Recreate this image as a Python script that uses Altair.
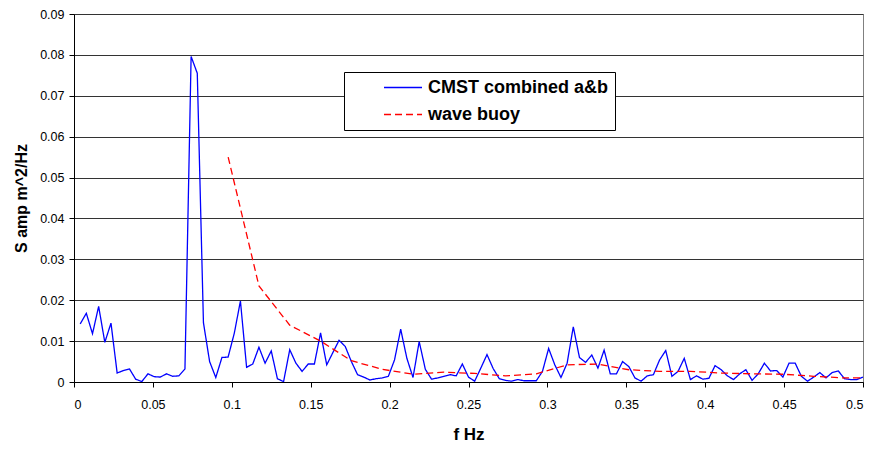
import altair as alt
import pandas as pd

# --- data ---
FREQ_STEP = 1 / 256  # FFT bin spacing of the CMST spectrum
cmst_freq = [round(i * FREQ_STEP, 6) for i in range(1, 129)]
cmst_S = [
    0.0142, 0.0168, 0.0118, 0.0185, 0.0097, 0.0144, 0.0022, 0.0028, 0.0032, 0.0007,
    0.0001, 0.0020, 0.0013, 0.0012, 0.0020, 0.0014, 0.0015, 0.0032, 0.0796, 0.0755,
    0.0145, 0.0050, 0.0011, 0.0060, 0.0061, 0.0119, 0.0198, 0.0036, 0.0044, 0.0085,
    0.0046, 0.0076, 0.0008, 0.0001, 0.0079, 0.0046, 0.0026, 0.0044, 0.0044, 0.0120,
    0.0042, 0.0072, 0.0102, 0.0087, 0.0050, 0.0018, 0.0012, 0.0005, 0.0008, 0.0010,
    0.0014, 0.0054, 0.0129, 0.0058, 0.0011, 0.0099, 0.0031, 0.0007, 0.0010, 0.0014,
    0.0018, 0.0015, 0.0044, 0.0012, 0.0002, 0.0034, 0.0067, 0.0033, 0.0008, 0.0004,
    0.0002, 0.0006, 0.0003, 0.0003, 0.0003, 0.0026, 0.0082, 0.0042, 0.0011, 0.0046,
    0.0135, 0.0060, 0.0048, 0.0066, 0.0034, 0.0078, 0.0020, 0.0020, 0.0050, 0.0038,
    0.0010, 0.0002, 0.0015, 0.0018, 0.0054, 0.0077, 0.0014, 0.0026, 0.0058, 0.0006,
    0.0015, 0.0007, 0.0009, 0.0040, 0.0030, 0.0015, 0.0006, 0.0020, 0.0030, 0.0004,
    0.0020, 0.0046, 0.0027, 0.0028, 0.0012, 0.0046, 0.0046, 0.0014, 0.0002, 0.0012,
    0.0023, 0.0010, 0.0023, 0.0027, 0.0008, 0.0006, 0.0006, 0.0012,
]

buoy_freq = [0.0977, 0.1172, 0.1367, 0.1563, 0.1758, 0.1953, 0.2148, 0.2344, 0.2539,
             0.2734, 0.2930, 0.3125, 0.3320, 0.3516, 0.3711, 0.3906, 0.4102, 0.4297,
             0.4492, 0.4688, 0.4883, 0.5000]
buoy_S = [0.0550, 0.0235, 0.0139, 0.0100, 0.0052, 0.0031, 0.0019, 0.0024, 0.0021,
          0.0015, 0.0020, 0.0042, 0.0044, 0.0030, 0.0026, 0.0026, 0.0022, 0.0020,
          0.0019, 0.0014, 0.0010, 0.0010]

series_names = ["CMST combined a&b", "wave buoy"]
series_colors = ["#0000FF", "#FF0000"]

x_ticks = [0, 0.05, 0.1, 0.15, 0.2, 0.25, 0.3, 0.35, 0.4, 0.45, 0.5]
y_ticks = [0, 0.01, 0.02, 0.03, 0.04, 0.05, 0.06, 0.07, 0.08, 0.09]

df = pd.concat([
    pd.DataFrame({"f": cmst_freq, "S": cmst_S, "series": series_names[0]}),
    pd.DataFrame({"f": buoy_freq, "S": buoy_S, "series": series_names[1]}),
], ignore_index=True)

FONT = "Liberation Sans"


def make_legend():
    return alt.Legend(title=None, orient="none", legendX=270, legendY=58,
                      symbolType="stroke", symbolSize=1444, clipHeight=19,
                      symbolStrokeWidth=1.5, symbolOffset=33,
                      labelOffset=5, padding=6, rowPadding=8, labelLimit=400,
                      strokeColor="#000000", fillColor="#FFFFFF",
                      labelFont=FONT, labelFontSize=18,
                      labelFontWeight="bold", labelColor="#000000")


chart = alt.Chart(df).mark_line(strokeWidth=1.3, clip=True).encode(
    x=alt.X("f:Q", scale=alt.Scale(domain=[0, 0.5], nice=False, zero=False),
            axis=alt.Axis(values=x_ticks, format=".2~f", title="f Hz", grid=False,
                          labelPadding=11, titlePadding=16, titleFontSize=17)),
    y=alt.Y("S:Q", scale=alt.Scale(domain=[0, 0.09], nice=False),
            axis=alt.Axis(values=y_ticks, format=".2~f", title="S amp m^2/Hz", grid=True,
                          labelPadding=5, titlePadding=10, titleFontSize=16)),
    color=alt.Color("series:N", scale=alt.Scale(domain=series_names, range=series_colors),
                    legend=make_legend()),
    strokeDash=alt.StrokeDash("series:N",
                              scale=alt.Scale(domain=series_names, range=[[1, 0], [7, 4]]),
                              legend=make_legend()),
    order="f:Q",
).properties(
    width=789, height=368,
    autosize=alt.AutoSizeParams(type="none"),
    padding={"left": 74, "top": 14, "right": 10, "bottom": 68},
    background="#FFFFFF",
).configure_view(
    stroke="#808080", strokeWidth=1,
).configure_axis(
    labelFont=FONT, labelFontSize=12.5, labelColor="#000000",
    titleFont=FONT, titleFontWeight="bold", titleColor="#000000",
    domainColor="#000000", tickColor="#000000", tickSize=5,
    gridColor="#333333", gridWidth=1,
)

chart.save("out.html", embed_options={"renderer": "svg", "actions": False})
